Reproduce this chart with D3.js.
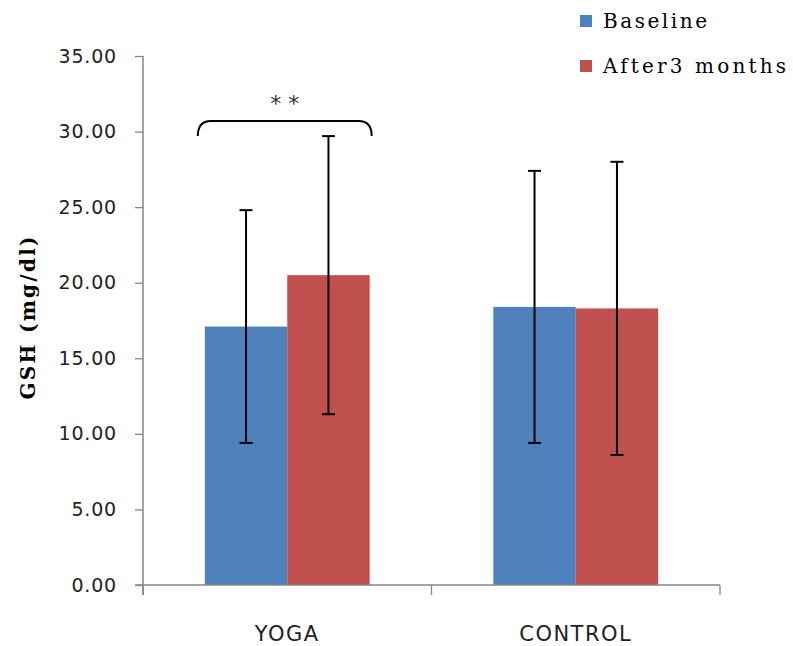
<!DOCTYPE html>
<html>
<head>
<meta charset="utf-8">
<script src="https://cdn.jsdelivr.net/npm/d3@7"></script>
<style>
  html, body { margin: 0; padding: 0; background: #ffffff; }
  svg { display: block; }
</style>
</head>
<body>
<svg id="chart" width="793" height="646"></svg>
<script>
// Group categories, series and values (mean ± SD of GSH, mg/dl)
const categories = ["YOGA", "CONTROL"];
const seriesNames = ["Baseline", "After3 months"];
const seriesColors = ["#4F81BD", "#C0504D"];
const baselineMean = [17.1, 18.4];
const baselineSD = [7.7, 9.0];
const afterMean = [20.5, 18.3];
const afterSD = [9.2, 9.7];
const yTicks = [0, 5, 10, 15, 20, 25, 30, 35];
const yTitle = "GSH (mg/dl)";
const significance = { category: "YOGA", label: "* *", level: 30.7 };

const means = [baselineMean, afterMean];
const sds = [baselineSD, afterSD];

const svg = d3.select("#chart");

const x = d3.scaleBand().domain(categories).range([143, 720]).paddingInner(0).paddingOuter(0);
const xs = d3.scaleBand().domain(seriesNames).range([0, x.bandwidth()]).paddingInner(0).paddingOuter(0.75);
const y = d3.scaleLinear().domain([0, 35]).range([585, 56]);

const axisColor = "#868686";

// Bars
const rows = [];
categories.forEach((c, ci) => {
  seriesNames.forEach((s, si) => {
    rows.push({ c, s, si, mean: means[si][ci], sd: sds[si][ci] });
  });
});

svg.append("g").selectAll("rect").data(rows).join("rect")
  .attr("x", d => x(d.c) + xs(d.s))
  .attr("y", d => y(d.mean))
  .attr("width", xs.bandwidth())
  .attr("height", d => y(0) - y(d.mean))
  .attr("fill", d => seriesColors[d.si]);

// Y axis
const yAxis = d3.axisLeft(y).tickValues(yTicks).tickFormat(d3.format(".2f")).tickSize(8).tickPadding(18);
const gy = svg.append("g").attr("transform", "translate(143,0)").call(yAxis);
gy.select(".domain").remove();
gy.selectAll(".tick line").attr("stroke", axisColor).attr("stroke-width", 1.3);
gy.selectAll(".tick text")
  .attr("font-family", "DejaVu Sans, sans-serif")
  .attr("font-size", 19)
  .attr("letter-spacing", 0.8)
  .attr("fill", "#222");
svg.append("line")
  .attr("x1", 143).attr("x2", 143)
  .attr("y1", y(35)).attr("y2", y(0) + 10)
  .attr("stroke", axisColor).attr("stroke-width", 1.5);

// X axis with ticks at category boundaries
svg.append("line")
  .attr("x1", 135).attr("x2", 720)
  .attr("y1", y(0)).attr("y2", y(0))
  .attr("stroke", axisColor).attr("stroke-width", 1.5);
const boundaries = categories.map(c => x(c)).concat([x(categories[categories.length - 1]) + x.bandwidth()]);
svg.append("g").selectAll("line").data(boundaries).join("line")
  .attr("x1", d => d).attr("x2", d => d)
  .attr("y1", y(0)).attr("y2", y(0) + 10)
  .attr("stroke", axisColor).attr("stroke-width", 1.3);

svg.append("g").selectAll("text").data(categories).join("text")
  .attr("x", d => x(d) + x.bandwidth() / 2)
  .attr("y", 641)
  .attr("text-anchor", "middle")
  .attr("font-family", "DejaVu Sans, sans-serif")
  .attr("font-size", 21)
  .attr("letter-spacing", 1.5)
  .attr("fill", "#222")
  .text(d => d);

// Error bars
const cap = 6.5;
const eb = svg.append("g").attr("stroke", "#000").attr("stroke-width", 2);
rows.forEach(d => {
  const cx = x(d.c) + xs(d.s) + xs.bandwidth() / 2;
  const top = y(d.mean + d.sd), bot = y(d.mean - d.sd);
  eb.append("line").attr("x1", cx).attr("x2", cx).attr("y1", top).attr("y2", bot);
  eb.append("line").attr("x1", cx - cap).attr("x2", cx + cap).attr("y1", top).attr("y2", top);
  eb.append("line").attr("x1", cx - cap).attr("x2", cx + cap).attr("y1", bot).attr("y2", bot);
});

// Significance bracket over the yoga group
const bx0 = x(significance.category) + xs(seriesNames[0]) - 7;
const bx1 = x(significance.category) + xs(seriesNames[1]) + xs.bandwidth() + 2;
const by = y(significance.level);
const r = 13;
svg.append("path")
  .attr("d", `M${bx0},${by + r + 2} Q${bx0},${by} ${bx0 + r},${by} L${bx1 - r},${by} Q${bx1},${by} ${bx1},${by + r + 2}`)
  .attr("fill", "none").attr("stroke", "#000").attr("stroke-width", 2);
svg.append("text")
  .attr("x", (bx0 + bx1) / 2)
  .attr("y", by - 10)
  .attr("text-anchor", "middle")
  .attr("font-family", "DejaVu Sans, sans-serif")
  .attr("font-size", 22)
  .attr("fill", "#333")
  .text(significance.label);

// Y axis title
svg.append("text")
  .attr("transform", "translate(35,318) rotate(-90)")
  .attr("text-anchor", "middle")
  .attr("font-family", "DejaVu Serif, serif")
  .attr("font-weight", "bold")
  .attr("font-size", 20)
  .attr("textLength", 163)
  .attr("lengthAdjust", "spacing")
  .attr("fill", "#000")
  .text(yTitle);

// Legend
const legendWidths = [104, 183];
const lg = svg.append("g");
seriesNames.forEach((s, i) => {
  const ly = 21 + i * 45;
  lg.append("rect").attr("x", 580).attr("y", ly - 6).attr("width", 12).attr("height", 12).attr("fill", seriesColors[i]);
  lg.append("text")
    .attr("x", 603).attr("y", ly + 7)
    .attr("font-family", "DejaVu Serif, serif")
    .attr("font-size", 20)
    .attr("textLength", legendWidths[i])
    .attr("lengthAdjust", "spacing")
    .attr("fill", "#000")
    .text(s);
});
</script>
</body>
</html>
